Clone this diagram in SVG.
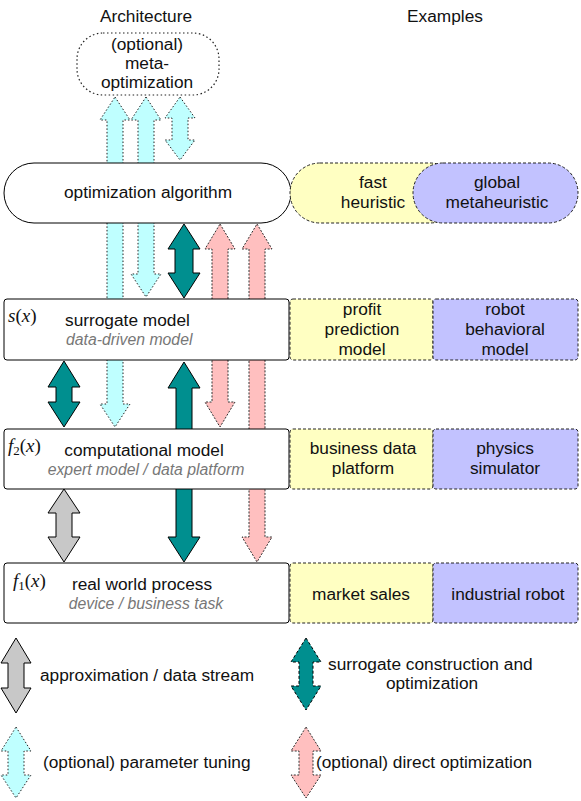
<svg xmlns="http://www.w3.org/2000/svg" width="581" height="801" viewBox="0 0 581 801">
<style>
text{font-family:"Liberation Sans",Arial,sans-serif;font-size:17.3px;fill:#111}
.c{text-anchor:middle}
.it{font-style:italic;fill:#777;font-size:15.8px}
.m{font-family:"Liberation Serif","Times New Roman",serif;font-size:19px}
.mi{font-style:italic}
.box{fill:#fff;stroke:#000;stroke-width:1}
.ye{fill:#ffffc2;stroke:#222;stroke-width:1;stroke-dasharray:3,2}
.pu{fill:#c2c2ff;stroke:#222;stroke-width:1;stroke-dasharray:3,2}
.meta{fill:#fff;stroke:#222;stroke-width:1.2;stroke-dasharray:1.5,2.5}
.cy{fill:#bfffff;stroke:#222;stroke-width:1;stroke-dasharray:1.5,2}
.pk{fill:#ffbfbf;stroke:#333;stroke-width:1;stroke-dasharray:2,1.5}
.tl{fill:#008f8f;stroke:#000;stroke-width:1}
.tld{fill:#008f8f;stroke:#000;stroke-width:1;stroke-dasharray:3,2}
.gr{fill:#c8c8c8;stroke:#000;stroke-width:1}
</style>

<g id="headers">
<text class="c" x="146" y="22">Architecture</text>
<text class="c" x="445" y="22">Examples</text>
</g>

<g id="connectors">
<polygon class="cy" points="115,97 130,120 123,120 123,404 130,404 115,427 100,404 107,404 107,120 100,120"/>
<polygon class="cy" points="146,97 161,120 154,120 154,274 161,274 146,297 131,274 138,274 138,120 131,120"/>
<polygon class="cy" points="180,97 195,118 188,118 188,140 195,140 180,160 165,140 172,140 172,118 165,118"/>
<polygon class="tl" points="184,224 200,249 193,249 193,273 200,273 184,298 168,273 175,273 175,249 168,249"/>
<polygon class="pk" points="220,224 235,249 228,249 228,402 235,402 220,427 205,402 212,402 212,249 205,249"/>
<polygon class="pk" points="257,224 272,249 265,249 265,537 272,537 257,562 242,537 249,537 249,249 242,249"/>
<polygon class="tl" points="184,362 200,388 192,388 192,537 200,537 184,562 168,537 176,537 176,388 168,388"/>
<polygon class="tl" points="64,361 80,387 72,387 72,402 80,402 64,427 48,402 56,402 56,387 48,387"/>
<polygon class="gr" points="64,489 80,513 72,513 72,537 80,537 64,562 48,537 56,537 56,513 48,513"/>
</g>

<g id="meta-optimization">
<rect class="meta" x="77" y="33" width="142" height="62" rx="26"/>
<text class="c" x="147" y="50">(optional)</text>
<text class="c" x="147" y="69">meta-</text>
<text class="c" x="147" y="88">optimization</text>
</g>

<g id="optimization-algorithm">
<rect class="box" x="4" y="163" width="287" height="60" rx="30"/>
<text class="c" x="148" y="198">optimization algorithm</text>
</g>
<g id="fast-heuristic">
<rect class="ye" x="290" y="163" width="170" height="60" rx="30"/>
<text class="c" x="373" y="188">fast</text>
<text class="c" x="373" y="208">heuristic</text>
</g>
<g id="global-metaheuristic">
<rect class="pu" x="413" y="163" width="165" height="60" rx="30"/>
<text class="c" x="497" y="188">global</text>
<text class="c" x="497" y="208">metaheuristic</text>
</g>

<g id="surrogate-model">
<rect class="box" x="4" y="299" width="285" height="61" rx="3"/>
<text class="m" x="8" y="322"><tspan class="mi">s</tspan>(<tspan class="mi">x</tspan>)</text>
<text x="65" y="326">surrogate model</text>
<text class="it" x="66" y="345">data-driven model</text>
</g>
<g id="profit-prediction-model">
<rect class="ye" x="290" y="299" width="143" height="61" rx="3"/>
<text class="c" x="362" y="315">profit</text>
<text class="c" x="362" y="335">prediction</text>
<text class="c" x="362" y="355">model</text>
</g>
<g id="robot-behavioral-model">
<rect class="pu" x="433" y="299" width="145" height="61" rx="3"/>
<text class="c" x="505" y="315">robot</text>
<text class="c" x="505" y="335">behavioral</text>
<text class="c" x="505" y="355">model</text>
</g>

<g id="computational-model">
<rect class="box" x="4" y="429" width="285" height="60" rx="3"/>
<text class="m" x="8" y="452"><tspan class="mi">f</tspan><tspan font-size="13" dy="3">2</tspan><tspan dy="-3">(</tspan><tspan class="mi">x</tspan>)</text>
<text class="c" x="144" y="456">computational model</text>
<text class="it c" x="146" y="475">expert model / data platform</text>
</g>
<g id="business-data-platform">
<rect class="ye" x="290" y="429" width="143" height="60" rx="3"/>
<text class="c" x="363" y="454">business data</text>
<text class="c" x="363" y="474">platform</text>
</g>
<g id="physics-simulator">
<rect class="pu" x="433" y="429" width="145" height="60" rx="3"/>
<text class="c" x="505" y="454">physics</text>
<text class="c" x="505" y="474">simulator</text>
</g>

<g id="real-world-process">
<rect class="box" x="4" y="563" width="285" height="60" rx="3"/>
<text class="m" x="13" y="587"><tspan class="mi">f</tspan><tspan font-size="13" dy="3">1</tspan><tspan dy="-3">(</tspan><tspan class="mi">x</tspan>)</text>
<text class="c" x="142" y="590">real world process</text>
<text class="it c" x="146" y="609">device / business task</text>
</g>
<g id="market-sales">
<rect class="ye" x="290" y="563" width="143" height="60" rx="3"/>
<text class="c" x="361" y="600">market sales</text>
</g>
<g id="industrial-robot">
<rect class="pu" x="433" y="563" width="145" height="60" rx="3"/>
<text class="c" x="508" y="600">industrial robot</text>
</g>

<g id="legend">
<polygon class="gr" points="16,638 31,663 24,663 24,688 31,688 16,713 1,688 8,688 8,663 1,663"/>
<text x="40" y="681">approximation / data stream</text>
<polygon class="cy" points="16,727 31,751 24,751 24,775 31,775 16,798 1,775 8,775 8,751 1,751"/>
<text x="43" y="768">(optional) parameter tuning</text>
<polygon class="tld" points="306,638 321,662 313,662 313,686 321,686 306,710 291,686 299,686 299,662 291,662"/>
<text x="328" y="670">surrogate construction and</text>
<text class="c" x="432" y="689">optimization</text>
<polygon class="pk" points="306,727 321,751 313,751 313,775 321,775 306,798 291,775 299,775 299,751 291,751"/>
<text x="316" y="768">(optional) direct optimization</text>
</g>
</svg>
